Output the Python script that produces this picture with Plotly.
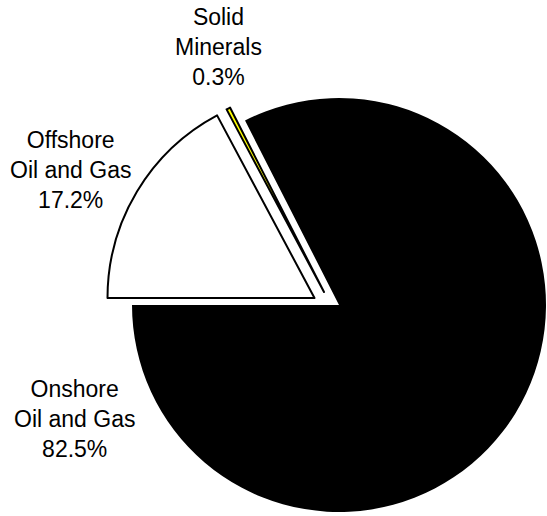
import plotly.graph_objects as go

# Share of revenue by source (percent)
labels = ["Offshore Oil and Gas", "Solid Minerals", "Onshore Oil and Gas"]
values = [17.2, 0.3, 82.5]
label_text = ["Offshore<br>Oil and Gas<br>17.2%", "Solid<br>Minerals<br>0.3%", "Onshore<br>Oil and Gas<br>82.5%"]

W, H = 547, 516
R = 207  # pie radius in px

# slice fill / outline styles
fills = ["#ffffff", "#ffff00", "#000000"]
outline_w = [2, 2, 0]

# pie centre (px from top-left) for each exploded piece
centres = [(314.5, 298.0), (324.0, 292.0), (339.0, 305.0)]

# label placement (px from top-left, middle of text block)
label_pos = [(71, 170), (218, 47), (74, 419)]


def domain_for(cx, cy):
    x0, x1 = (cx - R) / W, (cx + R) / W
    ybot = H - cy
    y0, y1 = (ybot - R) / H, (ybot + R) / H
    return dict(x=[max(0, x0), min(1, x1)], y=[max(0, y0), min(1, y1)])


fig = go.Figure()
for i, (cx, cy) in enumerate(centres):
    colors = ["rgba(0,0,0,0)"] * len(values)
    widths = [0] * len(values)
    colors[i] = fills[i]
    widths[i] = outline_w[i]
    fig.add_trace(go.Pie(
        labels=labels,
        values=values,
        sort=False,
        direction="clockwise",
        rotation=270,
        textinfo="none",
        hoverinfo="label+percent",
        marker=dict(colors=colors, line=dict(color="#000000", width=widths)),
        domain=domain_for(cx, cy),
        showlegend=False,
    ))

for txt, (px, py) in zip(label_text, label_pos):
    fig.add_annotation(
        text=txt, x=px / W, y=1 - py / H, xref="paper", yref="paper",
        xanchor="center", yanchor="middle", showarrow=False, align="center",
        font=dict(family="Liberation Sans, Arial, sans-serif", size=23, color="#000000"),
    )

fig.update_layout(
    width=W, height=H,
    margin=dict(l=0, r=0, t=0, b=0),
    paper_bgcolor="#ffffff",
    plot_bgcolor="#ffffff",
)

fig.write_html("out.html")
